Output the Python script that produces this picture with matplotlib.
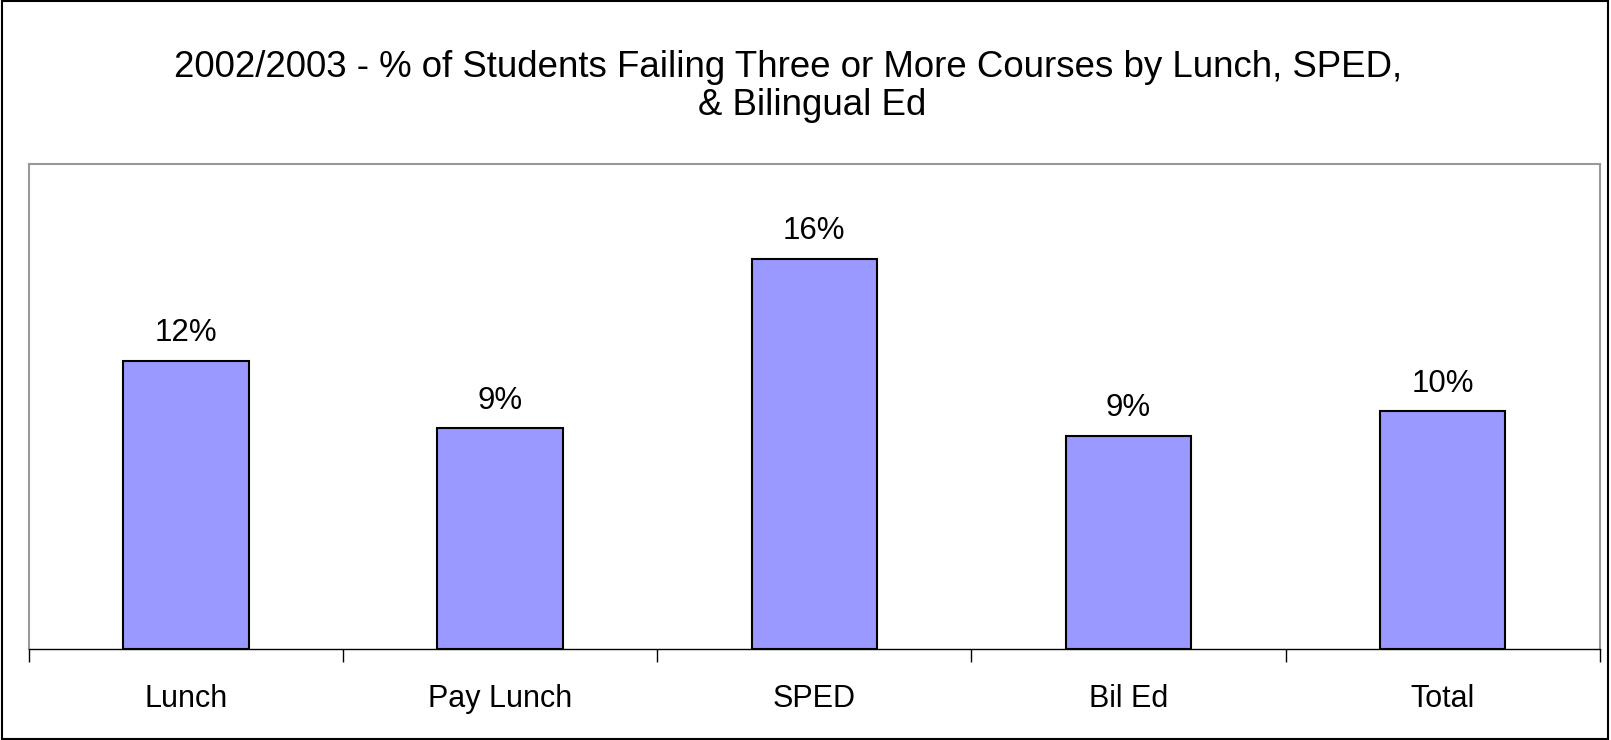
import matplotlib
matplotlib.use('Agg')
import matplotlib.pyplot as plt
from matplotlib.patches import Rectangle

plt.rcParams['font.family'] = ['Liberation Sans', 'DejaVu Sans']

# datos
categorias = ['Lunch', 'Pay Lunch', 'SPED', 'Bil Ed', 'Total']
porcentajes = [0.119, 0.091, 0.161, 0.088, 0.098]
etiquetas = ['12%', '9%', '16%', '9%', '10%']

fig = plt.figure(figsize=(16.11, 7.4), dpi=100)
ax = fig.add_axes([0.018, 0.123, 0.975, 0.655])

barras = ax.bar(range(len(categorias)), porcentajes, width=0.4,
                color='#9999FF', edgecolor='black', linewidth=1.5, zorder=3)
ax.bar_label(barras, labels=etiquetas, padding=9, fontsize=22.5)

ax.set_xlim(-0.5, len(categorias) - 0.5)
ax.set_ylim(0, 0.20)
ax.set_yticks([])

# etiquetas en el centro, marcas en los limites
ax.set_xticks(range(len(categorias)))
ax.set_xticklabels(categorias, fontsize=22)
ax.tick_params(axis='x', which='major', length=0, pad=25)
ax.set_xticks([i - 0.5 for i in range(len(categorias) + 1)], minor=True)
ax.tick_params(axis='x', which='minor', length=9, width=1, color='black')

for lado in ['left', 'top', 'right']:
    ax.spines[lado].set_color('#999999')
    ax.spines[lado].set_linewidth(1.5)
ax.spines['bottom'].set_color('black')
ax.spines['bottom'].set_linewidth(1)

# titulo en dos lineas (como en el original)
fig.text(0.489, 0.909, '2002/2003 - % of Students Failing Three or More Courses by Lunch, SPED,',
         ha='center', va='center', fontsize=26.4)
fig.text(0.504, 0.857, '& Bilingual Ed', ha='center', va='center', fontsize=26.4)

# marco exterior
fig.patches.append(Rectangle((0.001, 0.002), 0.997, 0.996, transform=fig.transFigure,
                             fill=False, edgecolor='black', linewidth=1.5))

plt.savefig('out.png', dpi=100)
